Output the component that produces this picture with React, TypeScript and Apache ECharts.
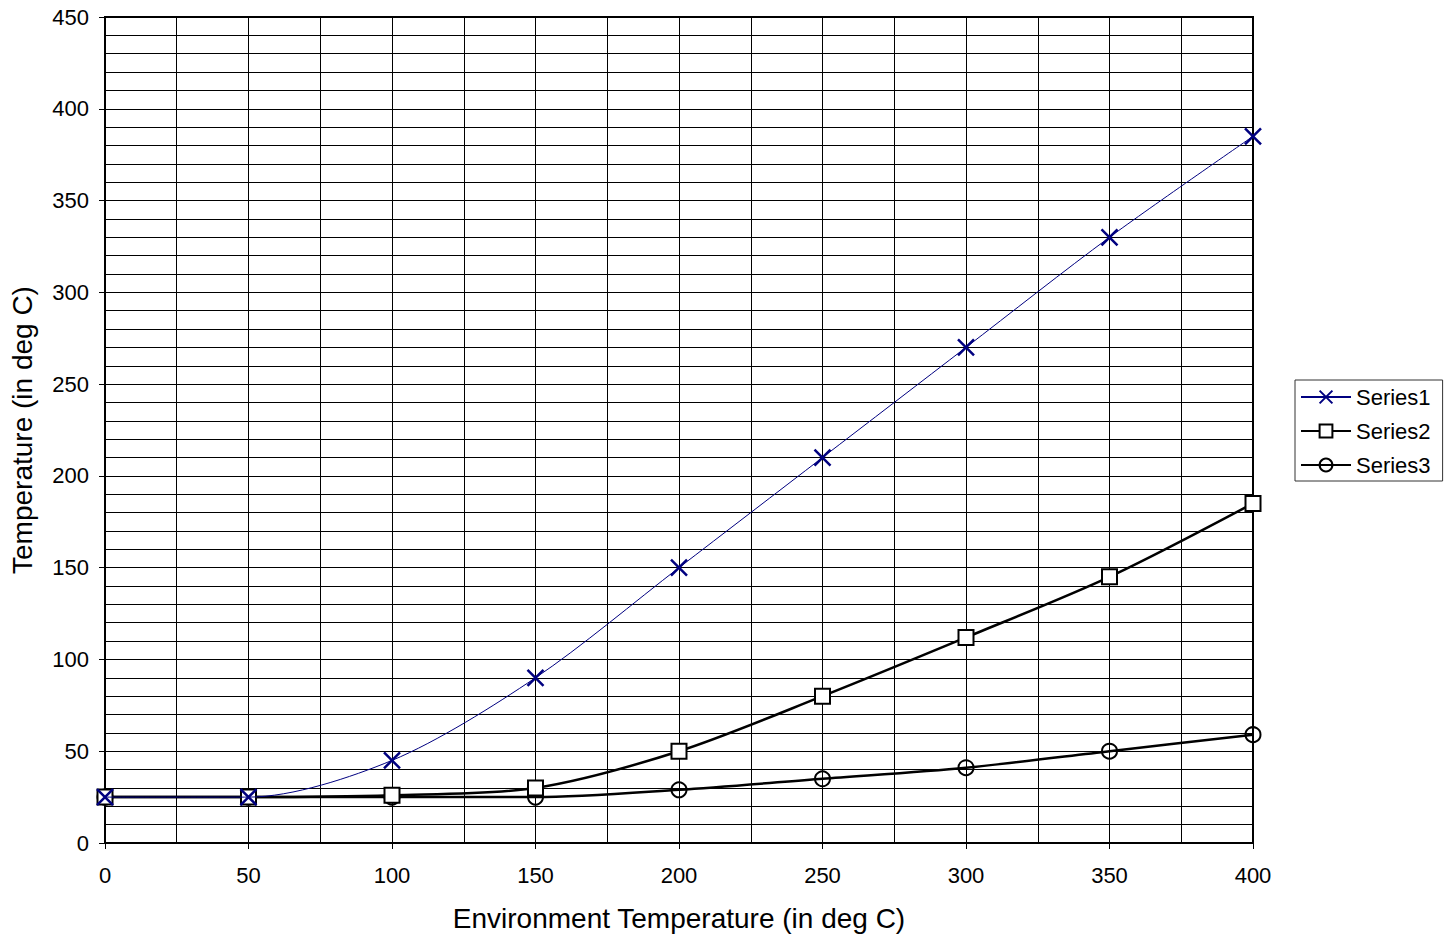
import React, { useEffect, useRef } from "react";
import * as echarts from "echarts";

const xValues = [0, 50, 100, 150, 200, 250, 300, 350, 400];
const series1 = [25, 25, 45, 90, 150, 210, 270, 330, 385];
const series2 = [25, 25, 26, 30, 50, 80, 112, 145, 185];
const series3 = [25, 25, 25, 25, 29, 35, 41, 50, 59];
const seriesNames = ["Series1", "Series2", "Series3"];

const pair = (ys: number[]) => xValues.map((x, i) => [x, ys[i]]);

export default function App() {
  const ref = useRef<HTMLDivElement>(null);
  useEffect(() => {
    if (!ref.current) return;
    const chart = echarts.init(ref.current, null, { renderer: "svg" });
    const font = "Liberation Sans, Arial, sans-serif";
    chart.setOption({
      animation: false,
      backgroundColor: "#ffffff",
      textStyle: { fontFamily: font },
      grid: {
        left: 104,
        top: 17,
        right: 199,
        bottom: 91,
        show: true,
        borderColor: "#000",
        borderWidth: 2,
      },
      legend: {
        orient: "vertical",
        left: 1295,
        top: 380,
        padding: [6, 12, 5, 5],
        itemGap: 12,
        itemWidth: 50,
        itemHeight: 16,
        borderColor: "#333",
        borderWidth: 1,
        borderRadius: 0,
        textStyle: { fontSize: 22, color: "#000", fontFamily: font },
        data: seriesNames,
      },
      xAxis: {
        type: "value",
        min: 0,
        max: 400,
        interval: 50,
        name: "Environment Temperature (in deg C)",
        nameLocation: "middle",
        nameGap: 61,
        nameTextStyle: { fontSize: 28, color: "#000", fontFamily: font },
        axisLine: { show: true, lineStyle: { color: "#000", width: 2 } },
        axisTick: { show: true, inside: false, length: 6, lineStyle: { color: "#000" } },
        axisLabel: { fontSize: 22, color: "#000", margin: 21, fontFamily: font },
        splitLine: { show: true, lineStyle: { color: "#000", width: 1 } },
        minorTick: { show: false, splitNumber: 2 },
        minorSplitLine: { show: true, lineStyle: { color: "#000", width: 1 } },
      },
      yAxis: {
        type: "value",
        min: 0,
        max: 450,
        interval: 50,
        name: "Temperature (in deg C)",
        nameLocation: "middle",
        nameGap: 69,
        nameTextStyle: { fontSize: 28, color: "#000", fontFamily: font },
        axisLine: { show: true, lineStyle: { color: "#000", width: 2 } },
        axisTick: { show: true, inside: false, length: 6, lineStyle: { color: "#000" } },
        axisLabel: { fontSize: 22, color: "#000", margin: 16, fontFamily: font },
        splitLine: { show: true, lineStyle: { color: "#000", width: 1 } },
        minorTick: { show: false, splitNumber: 5 },
        minorSplitLine: { show: true, lineStyle: { color: "#000", width: 1 } },
      },
      series: [
        {
          name: seriesNames[0],
          type: "line",
          smooth: 0.3,
          data: pair(series1),
          symbol: "path://M0,0L10,10M10,0L0,10",
          symbolSize: 16,
          lineStyle: { color: "#000080", width: 1 },
          itemStyle: { color: "transparent", borderColor: "#000080", borderWidth: 2.5 },
          z: 5,
        },
        {
          name: seriesNames[1],
          type: "line",
          smooth: 0.3,
          data: pair(series2),
          symbol: "rect",
          symbolSize: 15,
          lineStyle: { color: "#000", width: 2.5 },
          itemStyle: { color: "#fff", borderColor: "#000", borderWidth: 2 },
          z: 4,
        },
        {
          name: seriesNames[2],
          type: "line",
          smooth: 0.3,
          data: pair(series3),
          symbol: "circle",
          symbolSize: 15,
          lineStyle: { color: "#000", width: 2.5 },
          itemStyle: { color: "transparent", borderColor: "#000", borderWidth: 2 },
          z: 3,
        },
      ],
    });
    return () => chart.dispose();
  }, []);
  return <div ref={ref} style={{ width: 1452, height: 937, position: "absolute", left: 0, top: 0 }} />;
}
